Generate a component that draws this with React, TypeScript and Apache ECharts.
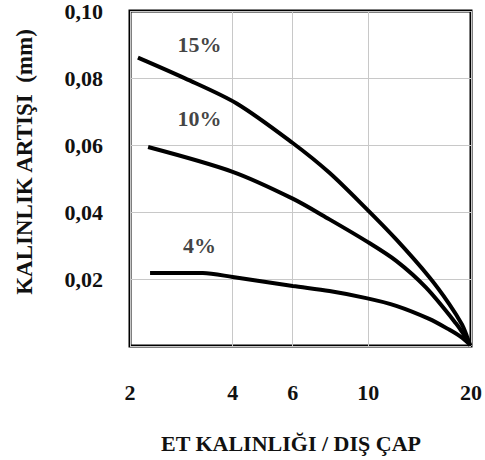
import React, { useEffect, useRef } from "react";
import * as echarts from "echarts";

// Curve data (x = ET KALINLIĞI / DIŞ ÇAP, y = KALINLIK ARTIŞI mm)
const x15 = [2.11, 2.9, 4.11, 6.0, 7.69, 9.86, 12.07, 15.08, 17.25, 18.82, 19.47, 19.9];
const y15 = [0.0861, 0.0799, 0.0724, 0.0606, 0.0517, 0.041, 0.0318, 0.0206, 0.0126, 0.0064, 0.0028, 0.0001];

const x10 = [2.26, 4.0, 6.0, 7.69, 9.86, 12.07, 14.77, 18.08, 19.3, 19.9];
const y10 = [0.0594, 0.052, 0.044, 0.0378, 0.0313, 0.0254, 0.0174, 0.0067, 0.0025, 0.0001];

const x4 = [2.29, 3.27, 4.0, 6.0, 7.69, 9.86, 12.07, 15.08, 17.25, 18.82, 19.7];
const y4 = [0.0218, 0.0218, 0.0206, 0.0179, 0.0164, 0.0143, 0.012, 0.0081, 0.0049, 0.0025, 0.0007];

// Curve labels
const curveLabels = ["15%", "10%", "4%"];
const curveLabelX = [3.2, 3.2, 3.2];
const curveLabelY = [0.0899, 0.0678, 0.0299];

// Axis ticks
const xTicks = [2, 4, 6, 10, 20];
const yMin = 0;
const yMax = 0.1;
const yInterval = 0.02;

const xAxisName = "ET KALINLIĞI / DIŞ ÇAP";
const yAxisName = "KALINLIK ARTIŞI  (mm)";

const lg = (v: number) => Math.log10(v);
const toPairs = (xs: number[], ys: number[]) => xs.map((x, i) => [lg(x), ys[i]]);

const FONT = "Liberation Serif";

export default function App() {
  const ref = useRef<HTMLDivElement>(null);
  useEffect(() => {
    if (!ref.current) return;
    const chart = echarts.init(ref.current, undefined, { renderer: "svg" });
    const lineStyle = { color: "#000", width: 4 };
    const tickLogs = xTicks.map(lg);
    const lineCommon = { type: "line", smooth: 0.3, showSymbol: false, lineStyle };
    chart.setOption({
      animation: false,
      backgroundColor: "#fff",
      grid: {
        left: 130,
        right: 13,
        top: 9,
        bottom: 114,
        show: true,
        borderColor: "#000",
        borderWidth: 3,
        backgroundColor: "transparent",
      },
      xAxis: {
        type: "value",
        min: lg(xTicks[0]),
        max: lg(xTicks[xTicks.length - 1]),
        axisLine: { show: false },
        axisTick: { show: false, customValues: tickLogs },
        axisLabel: {
          customValues: tickLogs,
          margin: 35,
          fontFamily: FONT,
          fontWeight: "bold",
          fontSize: 22,
          color: "#111",
          formatter: (v: number) => String(Math.round(Math.pow(10, v))),
        },
        splitLine: { show: true, lineStyle: { color: "#c8c8c8", width: 1 } },
      },
      yAxis: {
        type: "value",
        min: yMin,
        max: yMax,
        interval: yInterval,
        axisLine: { show: false },
        axisTick: { show: false },
        axisLabel: {
          margin: 27,
          fontFamily: FONT,
          fontWeight: "bold",
          fontSize: 22,
          color: "#111",
          formatter: (v: number) => (v === 0 ? "" : v.toFixed(2).replace(".", ",")),
        },
        splitLine: { show: true, lineStyle: { color: "#c8c8c8", width: 1 } },
      },
      graphic: [
        {
          type: "text",
          x: 291,
          y: 443,
          style: {
            text: xAxisName,
            fontFamily: FONT,
            fontWeight: "bold",
            fontSize: 22,
            fill: "#111",
            align: "center",
            verticalAlign: "middle",
          },
        },
        {
          type: "text",
          x: 24,
          y: 162,
          rotation: Math.PI / 2,
          style: {
            text: yAxisName,
            fontFamily: FONT,
            fontWeight: "bold",
            fontSize: 23,
            fill: "#111",
            align: "center",
            verticalAlign: "middle",
          },
        },
      ],
      series: [
        { ...lineCommon, data: toPairs(x15, y15) },
        { ...lineCommon, data: toPairs(x10, y10) },
        { ...lineCommon, data: toPairs(x4, y4) },
        {
          type: "scatter",
          symbolSize: 0,
          data: curveLabels.map((n, i) => ({ name: n, value: [lg(curveLabelX[i]), curveLabelY[i]] })),
          label: {
            show: true,
            position: "inside",
            formatter: "{b}",
            fontFamily: FONT,
            fontWeight: "bold",
            fontSize: 22,
            color: "#111",
          },
        },
      ],
    });
    return () => chart.dispose();
  }, []);
  return (
    <div
      ref={ref}
      style={{ position: "fixed", left: 0, top: 0, width: 485, height: 460 }}
    />
  );
}
